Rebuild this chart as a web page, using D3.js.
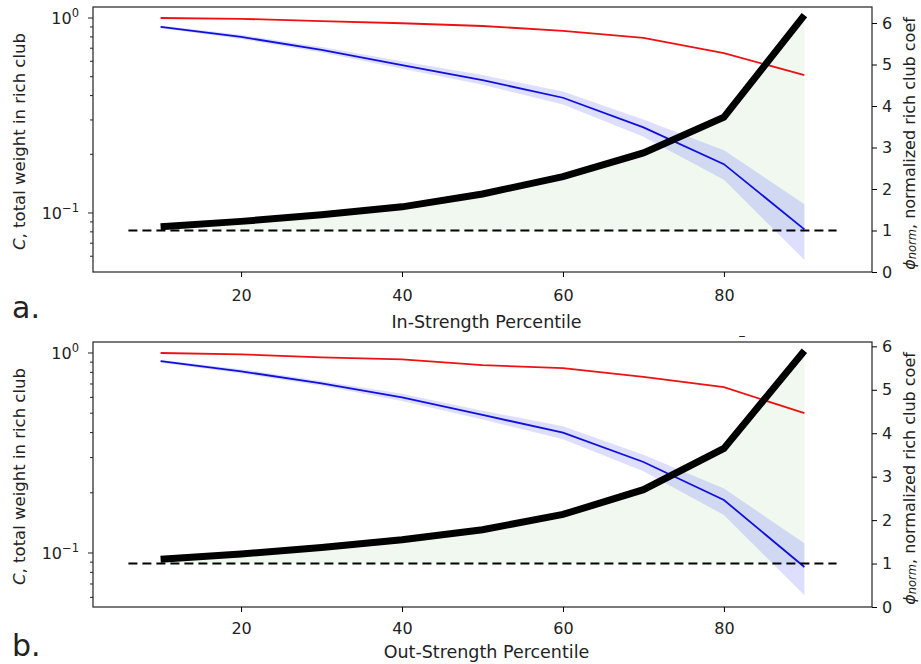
<!DOCTYPE html>
<html>
<head>
<meta charset="utf-8">
<script src="https://cdn.jsdelivr.net/npm/d3@7"></script>
<style>
  body { margin: 0; background: #fff; }
  text { font-family: "DejaVu Sans", sans-serif; fill: #222; }
</style>
</head>
<body>
<div id="chart"></div>
<script>
// percentiles on the x axis
const percentiles = [10, 20, 30, 40, 50, 60, 70, 80, 90];

// panel a: in-strength
const inTotal   = [1.0, 0.99, 0.965, 0.94, 0.91, 0.86, 0.79, 0.66, 0.51];
const inRandom  = [0.90, 0.80, 0.686, 0.574, 0.48, 0.39, 0.275, 0.178, 0.0824];
const inRandLo  = [0.885, 0.78, 0.665, 0.55, 0.455, 0.36, 0.246, 0.148, 0.0574];
const inRandHi  = [0.915, 0.82, 0.71, 0.60, 0.51, 0.42, 0.302, 0.21, 0.111];
const inPhi     = [1.09, 1.22, 1.38, 1.57, 1.88, 2.30, 2.87, 3.73, 6.19];

// panel b: out-strength
const outTotal  = [1.0, 0.985, 0.95, 0.93, 0.87, 0.84, 0.76, 0.675, 0.50];
const outRandom = [0.91, 0.81, 0.705, 0.60, 0.49, 0.40, 0.285, 0.184, 0.0851];
const outRandLo = [0.895, 0.79, 0.685, 0.575, 0.465, 0.37, 0.256, 0.155, 0.0615];
const outRandHi = [0.925, 0.83, 0.725, 0.625, 0.515, 0.43, 0.31, 0.21, 0.112];
const outPhi    = [1.10, 1.22, 1.37, 1.55, 1.78, 2.13, 2.70, 3.65, 5.90];

const xTicks = [20, 40, 60, 80];
const phiTicks = [0, 1, 2, 3, 4, 5, 6];

const width = 921, height = 664;
const svg = d3.select("#chart").append("svg")
    .attr("width", width)
    .attr("height", height);

const panels = [
    {top: 7, bottom: 272, total: inTotal, rnd: inRandom, lo: inRandLo, hi: inRandHi, phi: inPhi,
     yDom: [0.0498, 1.139], phiDom: [0, 6.386], xlabel: "In-Strength Percentile", tag: "a.", tagY: 318,
     tickPad: 13, labelOff: 56},
    {top: 342, bottom: 607, total: outTotal, rnd: outRandom, lo: outRandLo, hi: outRandHi, phi: outPhi,
     yDom: [0.0537, 1.135], phiDom: [0, 6.1], xlabel: "Out-Strength Percentile", tag: "b.", tagY: 656,
     tickPad: 11, labelOff: 51}
];

const left = 93, right = 872;

panels.forEach(p => {
    const g = svg.append("g");
    const x = d3.scaleLinear().domain([1.6, 98.4]).range([left, right]);
    const y = d3.scaleLog().domain(p.yDom).range([p.bottom, p.top]);
    const yr = d3.scaleLinear().domain(p.phiDom).range([p.bottom, p.top]);

    const rows = percentiles.map((d, i) => ({x: d, total: p.total[i], rnd: p.rnd[i], lo: p.lo[i], hi: p.hi[i], phi: p.phi[i]}));

    // green area between phi=1 and phi
    g.append("path")
        .datum(rows)
        .attr("d", d3.area().x(d => x(d.x)).y0(yr(1)).y1(d => yr(d.phi)))
        .attr("fill", "green")
        .attr("fill-opacity", 0.06);

    // random-network band
    g.append("path")
        .datum(rows)
        .attr("d", d3.area().x(d => x(d.x)).y0(d => y(d.lo)).y1(d => y(d.hi)))
        .attr("fill", "blue")
        .attr("fill-opacity", 0.13);

    g.append("path")
        .datum(rows)
        .attr("d", d3.line().x(d => x(d.x)).y(d => y(d.total)))
        .attr("fill", "none")
        .attr("stroke", "#ee1111")
        .attr("stroke-width", 1.8);

    g.append("path")
        .datum(rows)
        .attr("d", d3.line().x(d => x(d.x)).y(d => y(d.rnd)))
        .attr("fill", "none")
        .attr("stroke", "#1010dd")
        .attr("stroke-width", 1.8);

    g.append("path")
        .datum(rows)
        .attr("d", d3.line().x(d => x(d.x)).y(d => yr(d.phi)))
        .attr("fill", "none")
        .attr("stroke", "black")
        .attr("stroke-width", 7);

    g.append("line")
        .attr("x1", x(6)).attr("x2", x(94))
        .attr("y1", yr(1)).attr("y2", yr(1))
        .attr("stroke", "black")
        .attr("stroke-width", 2)
        .attr("stroke-dasharray", "9,5");

    // frame
    g.append("rect")
        .attr("x", left).attr("y", p.top)
        .attr("width", right - left).attr("height", p.bottom - p.top)
        .attr("fill", "none")
        .attr("stroke", "#222")
        .attr("stroke-width", 1.2);

    // x axis
    const xa = g.append("g")
        .attr("transform", `translate(0,${p.bottom})`)
        .call(d3.axisBottom(x).tickValues(xTicks).tickSize(5).tickPadding(p.tickPad));
    xa.select(".domain").remove();
    xa.selectAll("text").style("font-size", "16px");

    // left log axis: major and minor ticks
    const minor = [0.06, 0.07, 0.08, 0.09, 0.2, 0.3, 0.4, 0.5, 0.6, 0.7, 0.8, 0.9];
    const ya = g.append("g").attr("transform", `translate(${left},0)`);
    ya.selectAll(".minor").data(minor).enter().append("line")
        .attr("x1", -3).attr("x2", 0)
        .attr("y1", d => y(d)).attr("y2", d => y(d))
        .attr("stroke", "#222");
    const majors = [{v: 1, e: "0"}, {v: 0.1, e: "\u22121"}];
    ya.selectAll(".major").data(majors).enter().append("line")
        .attr("x1", -5).attr("x2", 0)
        .attr("y1", d => y(d.v)).attr("y2", d => y(d.v))
        .attr("stroke", "#222");
    const lab = ya.selectAll(".lab").data(majors).enter().append("text")
        .attr("x", -14)
        .attr("y", d => y(d.v) + 6)
        .attr("text-anchor", "end")
        .style("font-size", "16px");
    lab.append("tspan").text("10");
    lab.append("tspan").attr("dy", -7).style("font-size", "11.5px").text(d => d.e);

    // right phi axis
    const ra = g.append("g")
        .attr("transform", `translate(${right},0)`)
        .call(d3.axisRight(yr).tickValues(phiTicks).tickFormat(d3.format("d")).tickSize(5).tickPadding(5));
    ra.select(".domain").remove();
    ra.selectAll("text").style("font-size", "16px");

    // axis titles
    const cy = (p.top + p.bottom) / 2;
    const lt = g.append("text")
        .attr("transform", `translate(19,${cy + 2}) rotate(-90)`)
        .attr("text-anchor", "middle")
        .attr("dominant-baseline", "central")
        .style("font-size", "16.5px");
    lt.append("tspan").style("font-style", "italic").text("C");
    lt.append("tspan").text(", total weight in rich club");

    const rt = g.append("text")
        .attr("transform", `translate(909,${cy + 4}) rotate(-90)`)
        .attr("text-anchor", "middle")
        .attr("dominant-baseline", "central")
        .style("font-size", "16px");
    rt.append("tspan").style("font-style", "italic").text("\u03d5");
    rt.append("tspan").style("font-style", "italic").style("font-size", "11.5px").attr("dy", 3).text("norm");
    rt.append("tspan").attr("dy", -3).text(", normalized rich club coef");

    g.append("text")
        .attr("x", (left + right) / 2 + 4)
        .attr("y", p.bottom + p.labelOff)
        .attr("text-anchor", "middle")
        .style("font-size", "17.5px")
        .text(p.xlabel);

    g.append("text")
        .attr("x", 12)
        .attr("y", p.tagY)
        .style("font-size", "30px")
        .text(p.tag);
});

svg.append("text")
    .attr("x", 742).attr("y", 340)
    .attr("text-anchor", "middle")
    .style("font-size", "14px")
    .text("\u2013");
</script>
</body>
</html>
